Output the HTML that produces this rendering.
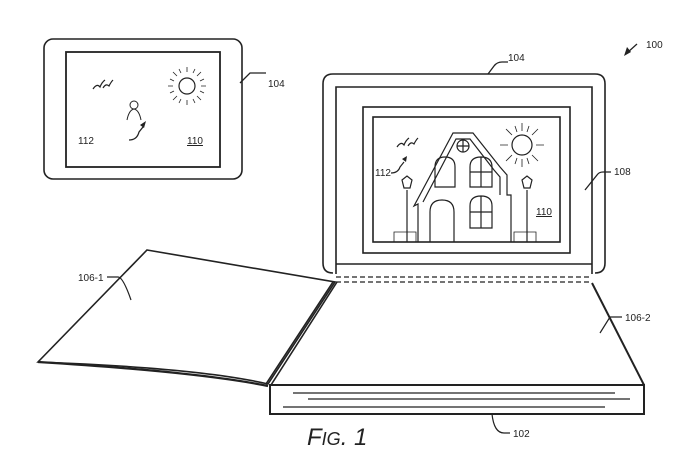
<!DOCTYPE html>
<html><head><meta charset="utf-8"><style>
html,body{margin:0;padding:0;background:#fff;}
svg{display:block}
text{font-family:"Liberation Sans",Arial,sans-serif;fill:#222}
</style></head><body>
<svg width="700" height="474" viewBox="0 0 700 474" xmlns="http://www.w3.org/2000/svg">
<g fill="none" stroke="#222" stroke-width="1.6">
<!-- small tablet -->
<rect x="44" y="39" width="198" height="140" rx="9"/>
<rect x="66" y="52" width="154" height="115" stroke-width="1.8"/>
<circle cx="187" cy="86" r="8" stroke-width="1.2"/>
<g stroke-width="0.8">
<path d="M187 72v-5M187 100v5M173 86h-5M201 86h5M177 76l-4-4M197 96l4 4M197 76l4-4M177 96l-4 4M181 73l-2-4M193 99l2 4M193 73l2-4M181 99l-2 4M174 81l-4-2M200 91l4 2M200 81l4-2M174 91l-4 2"/>
</g>
<path d="M93 89q4-6 7-2q2-5 5-7M103 88q3-5 6-2q2-4 4-6" stroke-width="1.2"/>
<circle cx="134" cy="105" r="4" stroke-width="1"/>
<path d="M127 120q2-10 7-11q5 1 7 11" stroke-width="1"/>
<path d="M129 140q8 0 10-8l4-5" stroke-width="1.3"/>
<path d="M240 83l10-10h16" stroke-width="1.3"/>
<!-- large tablet -->
<path d="M333 273q-10 0-10-10V84q0-10 10-10h262q10 0 10 10v179q0 10-10 10" />
<path d="M336 274V87h256v187"/>
<line x1="336" y1="264" x2="592" y2="264"/>
<rect x="363" y="107" width="207" height="146"/>
<rect x="373" y="117" width="187" height="125"/>
<!-- house -->
<g stroke-width="1.2">
<path d="M418 242V204l-4 2 39-73h20l27 34l7 8v20h4v47"/>
<path d="M423 202l33-63h14l24 31l6 7v18"/>
<path d="M430 242v-30q0-12 12-12q12 0 12 12v30"/>
<path d="M435 187v-20q0-10 10-10q10 0 10 10v20z"/>
<path d="M470 187v-20q0-10 11-10q11 0 11 10v20zM481 157v30M470 172h22"/>
<path d="M470 228v-22q0-10 11-10q11 0 11 10v22zM481 196v32M470 212h22"/>
<circle cx="463" cy="146" r="6"/>
<path d="M463 140v12M457 146h12"/>
<path d="M407 242v-52M402 180l5-4 5 4-2 8h-6zM527 242v-52M522 180l5-4 5 4-2 8h-6z"/>
<path d="M394 242v-10h22v10M514 242v-10h22v10" stroke-width="0.8"/>
<circle cx="522" cy="145" r="10"/>
<path d="M522 131v-8M522 159v8M508 145h-8M536 145h8M512 135l-6-6M532 155l6 6M532 135l6-6M512 155l-6 6M517 132l-2-6M527 158l2 6M527 132l2-6M517 158l-2 6" stroke-width="0.8"/>
<path d="M397 147q4-6 7-2q2-5 5-7M408 146q3-5 6-2q2-4 4-6"/>
<path d="M391 173q7 0 9-6l4-5"/>
</g>
<path d="M488 74l6-8q3-4 8-4h6" stroke-width="1.3"/>
<path d="M585 190l12-15q2-3 6-3h8" stroke-width="1.3"/>
<!-- dashed hinge -->
<g stroke-dasharray="5 3" stroke-width="1.3"><line x1="336" y1="277" x2="592" y2="277"/><line x1="336" y1="282" x2="592" y2="282"/></g>
<!-- book -->
<path d="M147 250L335 282L268 384Q200 368 38 362Z"/>
<path d="M38 362Q200 372 268 386" stroke-width="2.2"/>
<path d="M333 282L266 384M337 282L271 385"/>
<path d="M592 283L644 385" stroke-width="2"/>
<rect x="270" y="385" width="374" height="29" stroke-width="2"/>
<path d="M293 393h322M308 399h322M283 407h322" stroke-width="1.2"/>
<path d="M107 277h11q5 0 13 23" stroke-width="1.2"/>
<path d="M600 333l10-16h12" stroke-width="1.2"/>
<path d="M492 414q2 19 12 19h6" stroke-width="1.2"/>
<path d="M627 53l10-9" stroke-width="1.3"/>
</g>
<path d="M624 56l3-9 4 5z" fill="#222"/>
<path d="M140 125l6-4-2 7z" fill="#222"/>
<path d="M402 159l5-3-1 6z" fill="#222"/>
<g font-size="10">
<text x="78" y="144">112</text>
<text x="187" y="144" text-decoration="underline">110</text>
<text x="268" y="87">104</text>
<text x="508" y="61">104</text>
<text x="614" y="175">108</text>
<text x="646" y="48">100</text>
<text x="375" y="176">112</text>
<text x="536" y="215" text-decoration="underline">110</text>
<text x="78" y="281">106-1</text>
<text x="625" y="321">106-2</text>
<text x="513" y="437">102</text>
</g>
<text x="307" y="445" font-size="24" font-style="italic">F<tspan font-size="18">IG</tspan>. 1</text>
</svg>
</body></html>
